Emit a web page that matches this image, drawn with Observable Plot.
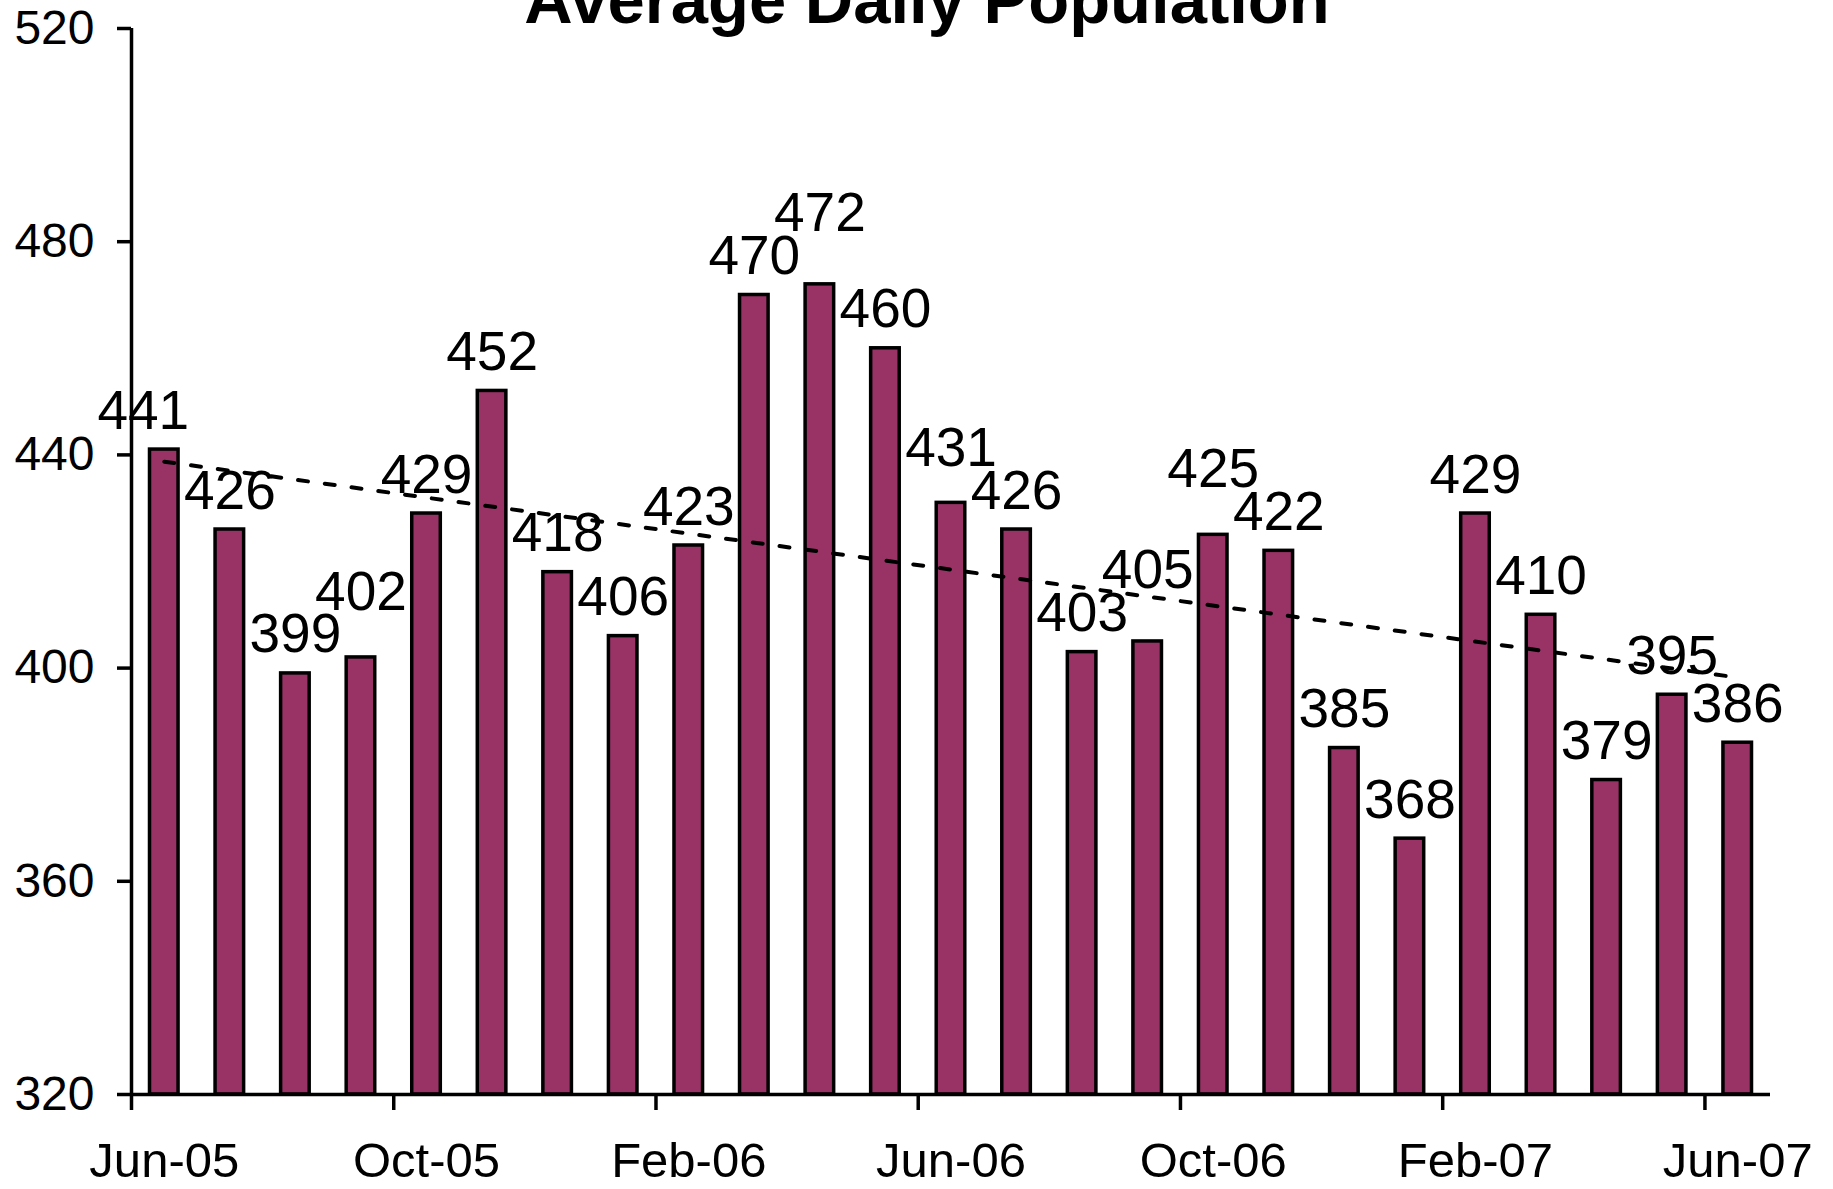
<!DOCTYPE html>
<html>
<head>
<meta charset="utf-8">
<script src="https://cdn.jsdelivr.net/npm/d3@7"></script>
<script src="https://cdn.jsdelivr.net/npm/@observablehq/plot@0.6"></script>
<style>
  html, body { margin: 0; padding: 0; background: #fff; overflow: hidden; }
  #wrap { position: relative; width: 1833px; height: 1189px; }
  #title { position: absolute; left: 0; width: 1854px; top: -34px; text-align: center;
           font-family: "Liberation Sans", Arial, sans-serif; font-weight: bold;
           font-size: 67px; line-height: 67px; color: #000; z-index: 2; }
  #chart { position: absolute; left: 0; top: 0; }
</style>
</head>
<body>
<div id="wrap">
  <div id="title">Average Daily Population</div>
  <div id="chart"></div>
</div>
<script>
const months = ["Jun-05","Jul-05","Aug-05","Sep-05","Oct-05","Nov-05","Dec-05","Jan-06",
  "Feb-06","Mar-06","Apr-06","May-06","Jun-06","Jul-06","Aug-06","Sep-06","Oct-06",
  "Nov-06","Dec-06","Jan-07","Feb-07","Mar-07","Apr-07","May-07","Jun-07"];
const values = [441,426,399,402,429,452,418,406,423,470,472,460,431,426,403,405,425,
  422,385,368,429,410,379,395,386];
const tickLabels = ["Jun-05","Oct-05","Feb-06","Jun-06","Oct-06","Feb-07","Jun-07"];
const yTicks = [320,360,400,440,480,520];

const yMin = yTicks[0], yMax = yTicks[yTicks.length - 1];
const data = months.map((m, i) => ({i, xc: i + 0.5, month: m, value: values[i]}));
const tickIdx = tickLabels.map(l => months.indexOf(l));
const font = "'Liberation Sans', Arial, sans-serif";

// simple collision avoidance for adjacent value labels (in value units)
const labelGap = 8;
const labelPos = values.slice();
for (let i = 1; i < labelPos.length; i++) {
  if (Math.abs(labelPos[i] - labelPos[i - 1]) < labelGap) {
    if (values[i] >= values[i - 1]) labelPos[i] = labelPos[i - 1] + labelGap;
    else labelPos[i - 1] = labelPos[i] + labelGap;
  }
}

const chart = Plot.plot({
  width: 1833,
  height: 1189,
  marginLeft: 131,
  marginRight: 63,
  marginTop: 28,
  marginBottom: 95,
  style: {fontFamily: font, background: "white", color: "black"},
  x: {domain: [0, months.length], label: null},
  y: {domain: [yMin, yMax], label: null},
  marks: [
    Plot.rectY(data, {
      x1: "i", x2: d => d.i + 1, y1: () => yMin, y2: "value",
      insetLeft: 18.5, insetRight: 18.5,
      fill: "#993366", stroke: "black", strokeWidth: 3.5
    }),
    Plot.ruleY([yMin], {stroke: "black", strokeWidth: 3.5}),
    Plot.ruleX([0], {y1: () => yMin, y2: () => yMax, stroke: "black", strokeWidth: 3.5}),
    Plot.axisY({ticks: yTicks, tickSize: 14, tickPadding: 23, fontSize: 48,
      strokeWidth: 3.5, label: null}),
    Plot.axisX({ticks: tickIdx, tickSize: 16, tickFormat: () => "", strokeWidth: 3.5, label: null}),
    Plot.axisX({ticks: tickIdx.map(t => t + 0.5), tickSize: 0, tickPadding: 48,
      fontSize: 49, tickFormat: t => months[Math.floor(t)], label: null}),
    Plot.text(data, {
      filter: d => d.i > 0,
      x: "xc", y: d => labelPos[d.i], text: d => String(d.value),
      lineAnchor: "bottom", dy: -21, fontSize: 55, fill: "black"
    }),
    Plot.text(data, {
      filter: d => d.i === 0,
      x: "xc", y: d => labelPos[d.i], text: d => String(d.value),
      lineAnchor: "bottom", dy: -21, dx: -21, fontSize: 55, fill: "black"
    }),
    Plot.linearRegressionY(data, {
      x: "xc", y: "value", ci: 0,
      stroke: "black", strokeWidth: 4, strokeDasharray: "10,17"
    })
  ]
});
document.getElementById("chart").appendChild(chart);
</script>
</body>
</html>
